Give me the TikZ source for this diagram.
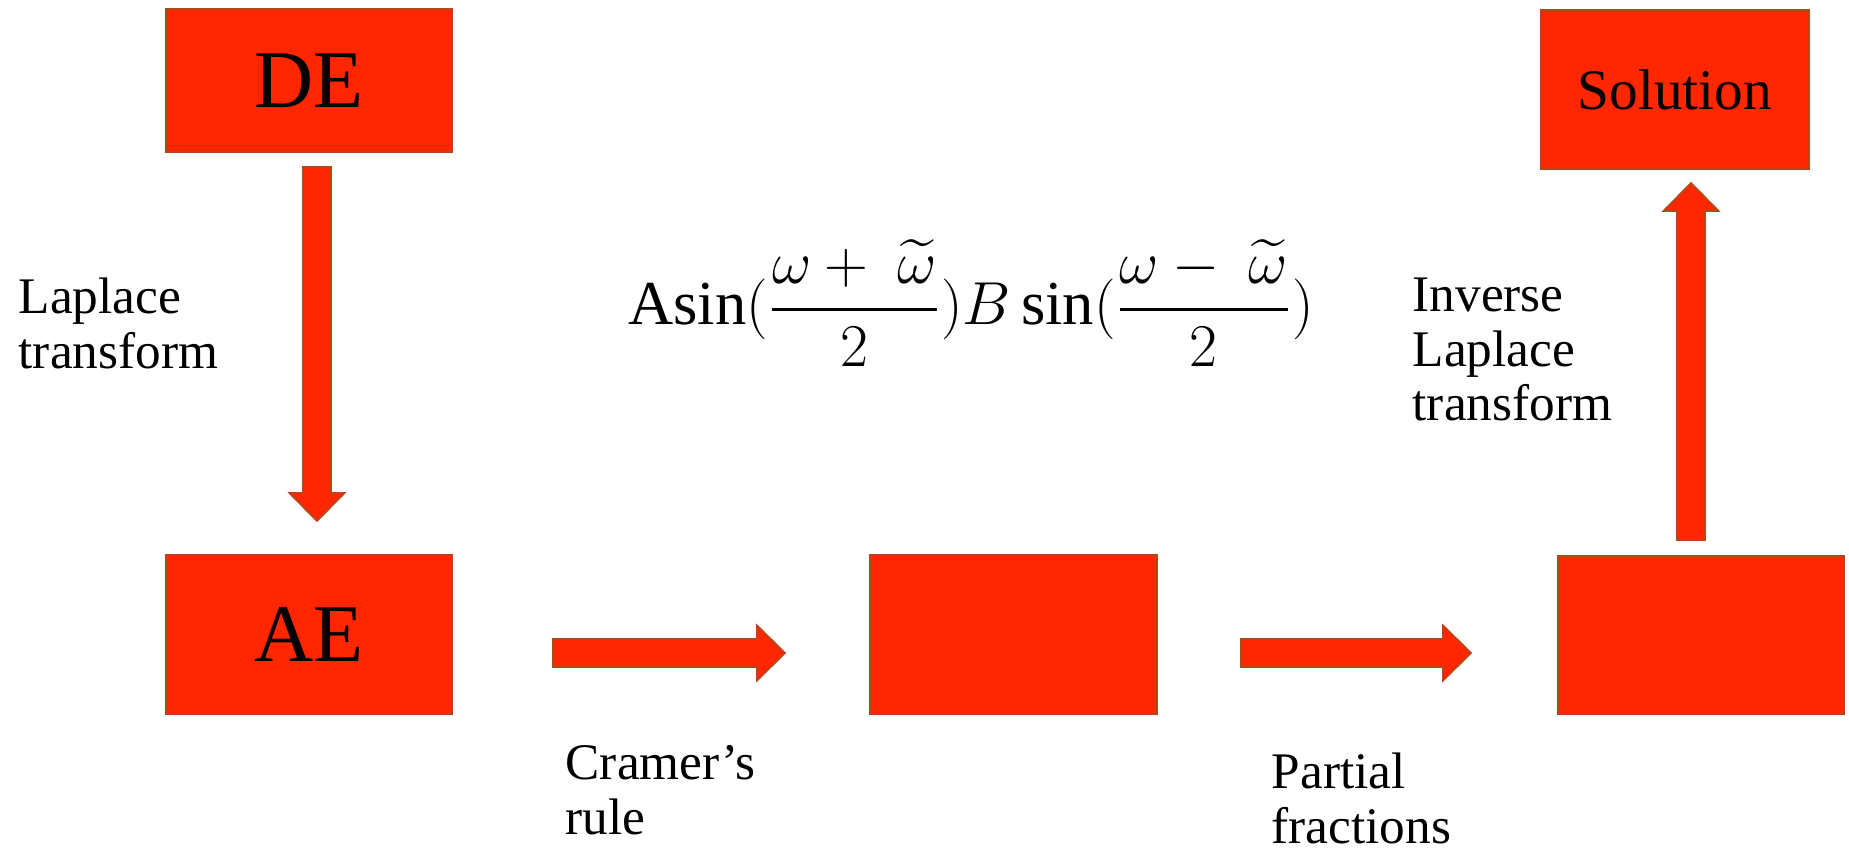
\documentclass[tikz,border=0pt]{standalone}
\usepackage{amsmath}
\usepackage{fontspec}
\setmainfont{Liberation Serif}
\usetikzlibrary{calc}

\definecolor{boxred}{RGB}{255,38,0}
\definecolor{boxedge}{RGB}{178,72,24}

\tikzset{
  redbox/.style={draw=boxedge,fill=boxred,line width=0.6pt,inner sep=0pt},
  lbl/.style={anchor=north west,inner sep=0pt,align=left,
    font=\fontsize{14.6pt}{15.6pt}\selectfont},
  fatarrow/.style={draw=boxedge,fill=boxred,line width=0.5pt,line join=miter}
}

% block arrow between two named coordinates
\newcommand{\blockarrow}[2]{%
  \coordinate (#1-#2) at ($(#2)!0.28cm!(#1)$);
  \draw[fatarrow] ($(#1)!0.14cm!90:(#2)$) -- ($(#1-#2)!0.14cm!-90:(#1)$)
    -- ($(#1-#2)!0.275cm!-90:(#1)$) -- (#2) -- ($(#1-#2)!0.275cm!90:(#1)$)
    -- ($(#1-#2)!0.14cm!90:(#1)$) -- ($(#1)!0.14cm!-90:(#2)$) -- cycle;}

\begin{document}
\begin{tikzpicture}

  \useasboundingbox (0,0) rectangle (18.49,8.51);

  % boxes
  \node[redbox,minimum width=2.86cm,minimum height=1.43cm,
    font=\fontsize{23.3pt}{26pt}\selectfont] (de) at (3.09,7.705) {DE};
  \node[redbox,minimum width=2.86cm,minimum height=1.59cm,
    font=\fontsize{23.3pt}{26pt}\selectfont] (ae) at (3.09,2.165) {AE};
  \node[redbox,minimum width=2.87cm,minimum height=1.59cm] (mid) at (10.135,2.165) {};
  \node[redbox,minimum width=2.86cm,minimum height=1.58cm] (right) at (17.01,2.16) {};
  \node[redbox,minimum width=2.68cm,minimum height=1.59cm,
    font=\fontsize{16.3pt}{18pt}\selectfont] (sol) at (16.75,7.615) {Solution};

  % arrow ends
  \coordinate (lt1) at (3.17,6.84);
  \coordinate (lt2) at (3.17,3.30);
  \coordinate (cr1) at (5.53,1.98);
  \coordinate (cr2) at (7.85,1.98);
  \coordinate (pf1) at (12.41,1.98);
  \coordinate (pf2) at (14.71,1.98);
  \coordinate (il1) at (16.91,3.11);
  \coordinate (il2) at (16.91,6.68);

  \blockarrow{lt1}{lt2}
  \blockarrow{cr1}{cr2}
  \blockarrow{pf1}{pf2}
  \blockarrow{il1}{il2}

  % labels
  \node[lbl] (ltlbl) at (0.18,5.74) {Laplace\\transform};
  \node[lbl] (crlbl) at (5.65,1.06) {Cramer’s\\rule};
  \node[lbl] (pflbl) at (12.71,0.99) {Partial\\fractions};
  \node[lbl] (illbl) at (14.12,5.74) {Inverse\\Laplace\\transform};

  \node[inner sep=0pt,font=\fontsize{17.8pt}{20pt}\selectfont] (formula) at (9.71,5.48)
    {$\mathrm{Asin}(\dfrac{\omega+\ \widetilde{\omega}}{2})B\sin(\dfrac{\omega-\ \widetilde{\omega}}{2})$};

\end{tikzpicture}
\end{document}
